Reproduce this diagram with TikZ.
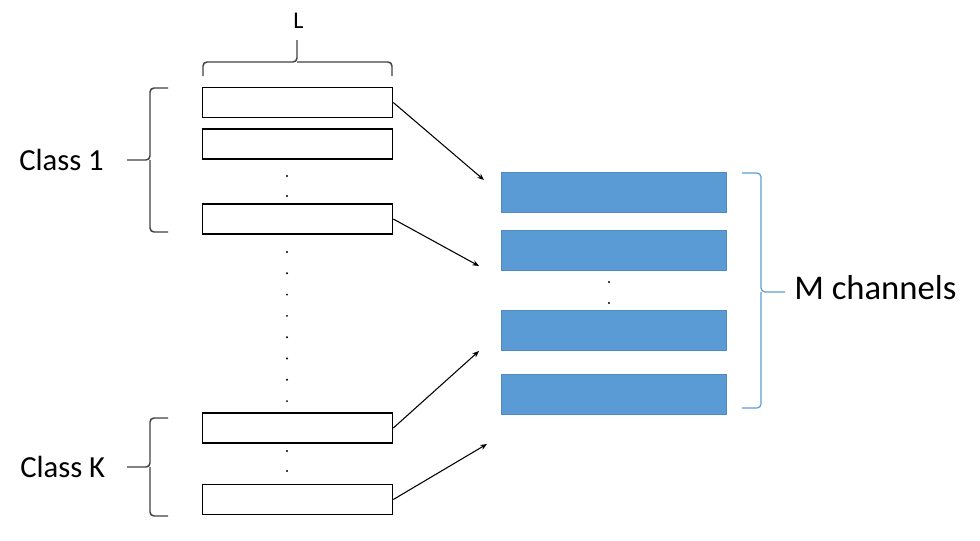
\documentclass[tikz,border=0pt]{standalone}
\usepackage{fontspec}
\setmainfont{Carlito}
\usepackage{tikz}
\usetikzlibrary{positioning}
\usetikzlibrary{arrows.meta}
\usepackage{xcolor}
\definecolor{chanblue}{HTML}{5B9BD5}
\definecolor{chanedge}{HTML}{4F8AC4}
\definecolor{bracegray}{HTML}{404040}

\begin{document}
\begin{tikzpicture}[x=0.75pt, y=-0.75pt,
    every node/.style={inner sep=0pt},
    inbox/.style={draw, line width=1.2pt, minimum width=142.5pt, minimum height=22.5pt},
    chan/.style={fill=chanblue, draw=chanedge, line width=0.5pt, minimum width=168.75pt, minimum height=30pt},
    brc/.style={draw=bracegray, line width=1.1pt, rounded corners=3pt},
    arr/.style={-{Stealth[length=5pt, width=4pt]}, line width=0.8pt}]
\useasboundingbox (0,0) rectangle (980,540);

% Input sequences
\node[inbox] (c1a) at (297.5,102.5) {};
\node[inbox] (c1b) at (297.5,144) {};
\node[inbox] (c1c) at (297.5,219) {};
\node[inbox] (cKa) at (297.5,428) {};
\node[inbox] (cKb) at (297.5,499.5) {};

% Channels
\foreach \y/\name in {192.5/m1, 250.7/m2, 330.7/m3, 394/m4} {
    \node[chan] (\name) at (614,\y) {};
}

% Dots
\foreach \y in {176, 196, 451, 471} {
    \fill (287,\y) circle (0.8pt);
}
\foreach \i in {0,...,7} {
    \fill (287,252+\i*21.3) circle (0.8pt);
}
\foreach \y in {282, 303} {
    \fill (609,\y) circle (0.8pt);
}

% Arrows
\coordinate (t1) at (484,180);
\coordinate (t2) at (479,266);
\coordinate (t3) at (479,351);
\coordinate (t4) at (487,444);
\draw[arr] (c1a.east) -- (t1);
\draw[arr] (c1c.east) -- (t2);
\draw[arr] (cKa.east) -- (t3);
\draw[arr] (cKb.east) -- (t4);

% Braces
\draw[brc] (203,76) |- (297,62) -- (297,40);
\draw[brc] (392,76) |- (297,62);
\draw[brc] (168,88) -| (150,160) -- (127,160);
\draw[brc] (168,232) -| (150,160);
\draw[brc] (168,418) -| (150,467) -- (127,467);
\draw[brc] (168,516) -| (150,467);
\draw[brc, draw=chanblue, line width=0.9pt] (742,173) -| (761,292) -- (785,292);
\draw[brc, draw=chanblue, line width=0.9pt] (742,408) -| (761,292);

% Labels
\node[anchor=base west, font=\fontsize{18}{20}\selectfont] (lenL) at (293,28.3) {L};
\node[anchor=base west, font=\fontsize{23}{26}\selectfont] (cls1) at (19,170.5) {Class 1};
\node[anchor=base west, font=\fontsize{23}{26}\selectfont] (clsK) at (20,477) {Class K};
\node[anchor=base west, font=\fontsize{26}{30}\selectfont] (mch) at (794,299) {M channels};
\end{tikzpicture}
\end{document}
